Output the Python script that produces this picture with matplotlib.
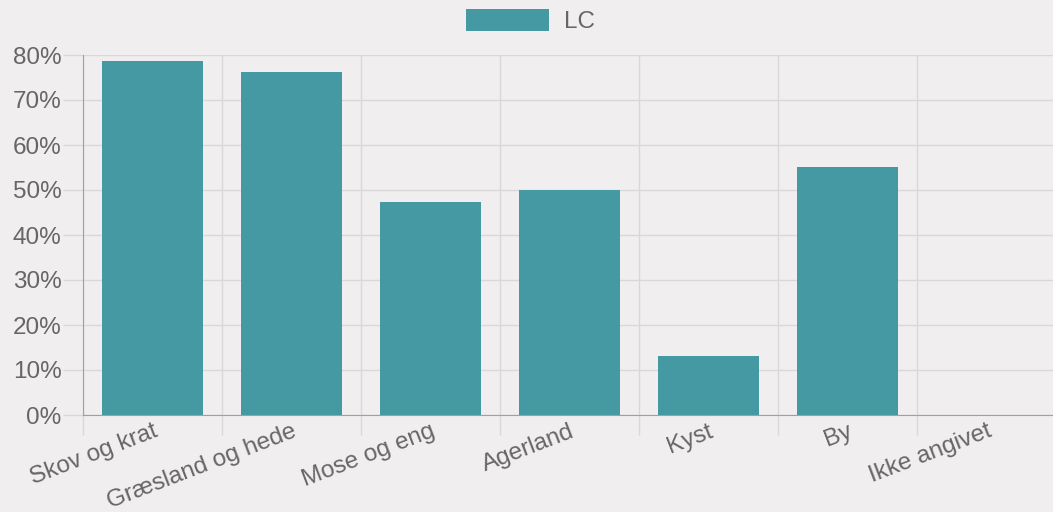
import numpy as np
import matplotlib.pyplot as plt
from matplotlib.ticker import FixedLocator, PercentFormatter

plt.rcParams['font.family'] = ['Liberation Sans', 'DejaVu Sans']

categories = ['Skov og krat', 'Græsland og hede', 'Mose og eng', 'Agerland',
              'Kyst', 'By', 'Ikke angivet']
lc = [78.7, 76.2, 47.3, 50.0, 13.1, 55.1, 0.0]

bg = '#f0eeef'
bar_color = '#4499a2'
grid_color = '#d9d7d8'
text_color = '#666666'
fs = 17.5

fig = plt.figure(figsize=(10.53, 5.12), dpi=100, facecolor=bg)
ax = fig.add_axes([83 / 1053, 97 / 512, 973 / 1053, 360 / 512])
ax.set_facecolor(bg)

x = np.arange(len(categories))
ax.bar(x, lc, width=0.72, color=bar_color, label='LC', zorder=3)

ax.set_xlim(-0.5, len(categories) - 0.5)
ax.set_ylim(0, 80)
ax.set_yticks(np.arange(0, 81, 10))
ax.yaxis.set_major_formatter(PercentFormatter(decimals=0))

# category labels at centres, grid lines on boundaries
ax.set_xticks(x)
ax.set_xticklabels(categories, rotation=21, ha='right', rotation_mode='anchor',
                   va='top', color=text_color, fontsize=fs)
ax.xaxis.set_minor_locator(FixedLocator(np.arange(-0.5, len(categories), 1.0)))
ax.tick_params(axis='x', which='major', length=0, pad=4)
ax.tick_params(axis='x', which='minor', length=14.4, color=grid_color, width=1)
ax.tick_params(axis='y', length=14.4, color=grid_color, width=1, pad=1,
               labelsize=fs, labelcolor=text_color)
ax.grid(axis='x', which='minor', color=grid_color, lw=1, zorder=0)
ax.grid(axis='y', which='major', color=grid_color, lw=1, zorder=0)

for s in ['top', 'right']:
    ax.spines[s].set_visible(False)
for s in ['left', 'bottom']:
    ax.spines[s].set_color('#a0a0a0')
    ax.spines[s].set_zorder(4)

ax.legend(loc='lower center', bbox_to_anchor=(0.46, 1.0), frameon=False,
          fontsize=fs, handlelength=3.4, handleheight=1.0, handletextpad=0.6,
          labelcolor=text_color, borderaxespad=0.5)

fig.savefig('out.png', dpi=100, facecolor=bg)
